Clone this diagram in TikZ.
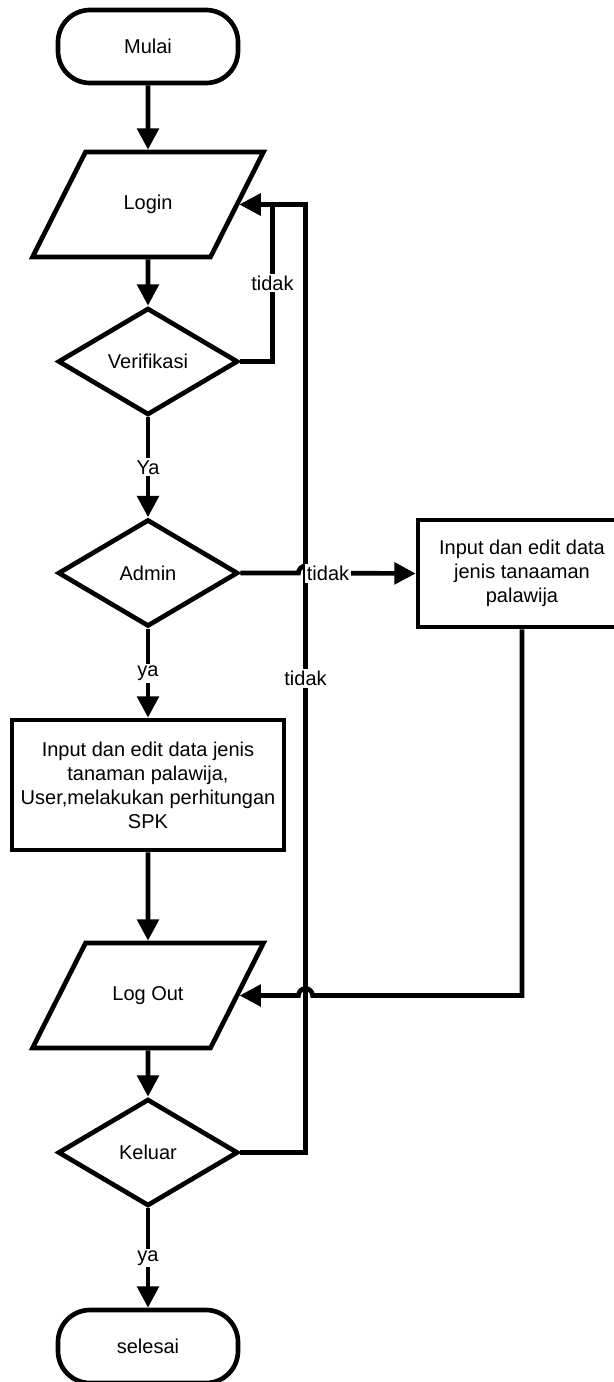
\documentclass[tikz,border=0pt]{standalone}
\usepackage{fontspec}
\setmainfont{Liberation Sans}
\usetikzlibrary{shapes.geometric,arrows.meta,calc}

\begin{document}
\begin{tikzpicture}[x=0.75pt,y=0.75pt,yscale=-1,xscale=1,
  font=\fontsize{15}{18}\selectfont,
  line/.style={line width=3.5pt},
  arr/.style={line, -{Triangle[length=16pt,width=16pt]}},
  terminal/.style={draw, line width=3.5pt, rounded corners=24pt, minimum width=135pt, minimum height=54.75pt},
  io/.style={draw, line width=3.5pt, trapezium, trapezium left angle=63.2, trapezium right angle=116.8, trapezium stretches body, text height=11pt, text depth=3.5pt, inner ysep=32.125pt, minimum width=173.25pt},
  decision/.style={draw, line width=3.5pt, diamond, inner sep=0pt, minimum width=135pt, minimum height=80.25pt},
  process/.style={draw, line width=3.5pt, rectangle, align=center},
  lbl/.style={fill=white, inner sep=1.5pt}
]
\useasboundingbox (0,0) rectangle (614,1382);

% Terminal
\node [terminal] (mulai) at (148,46.5) {Mulai};
% Input Output
\node [io] (login) at (148,204.5) {Login};
% Decision
\node [decision] (verif) at (148,361.5) {Verifikasi};
% Decision
\node [decision] (admin) at (148,573) {Admin};
% Process
\node [process, minimum width=204pt, minimum height=97.5pt] (inputadm) at (148,785) {Input dan edit data jenis\\tanaman palawija,\\User,melakukan perhitungan\\SPK};
% Process
\node [process, minimum width=156pt, minimum height=80.25pt] (inputusr) at (522,573.5) {Input dan edit data\\jenis tanaaman\\palawija};
% Input Output
\node [io] (logout) at (148,995.5) {Log Out};
% Decision
\node [decision] (keluar) at (148,1152.5) {Keluar};
% Terminal
\node [terminal] (selesai) at (148,1346.5) {selesai};

% loop columns
\coordinate (vloop) at (272.5,0);
\coordinate (kloop) at (305.5,0);

% Connectors
\draw [arr] (mulai) -- (login);
\draw [arr] (login) -- (verif);
\draw [arr] (verif.east) -| node [lbl,pos=0.75] {tidak} (vloop |- login.east) -- (login.east);
\draw [arr] (verif) -- node [lbl] {Ya} (admin);
\draw [arr] (admin) -- node [lbl] {ya} (inputadm);
\draw [arr] (admin.east) -- ($(kloop |- admin.east)+(-7,0)$) arc [start angle=180,end angle=360,radius=7] -- (inputusr.west);
\draw [arr] (inputadm) -- (logout);
\draw [arr] (inputusr.south) |- ($(kloop |- logout.east)+(7,0)$) arc [start angle=0,end angle=-180,radius=7] -- (logout.east);
\draw [arr] (logout) -- (keluar);
\draw [arr] (keluar) -- node [lbl] {ya} (selesai);
\draw [arr] (keluar.east) -| node [lbl,pos=0.75] {tidak} (kloop |- login.east) -- (login.east);
\path (admin.east) -- node [lbl] {tidak} (inputusr.west);

\end{tikzpicture}
\end{document}
